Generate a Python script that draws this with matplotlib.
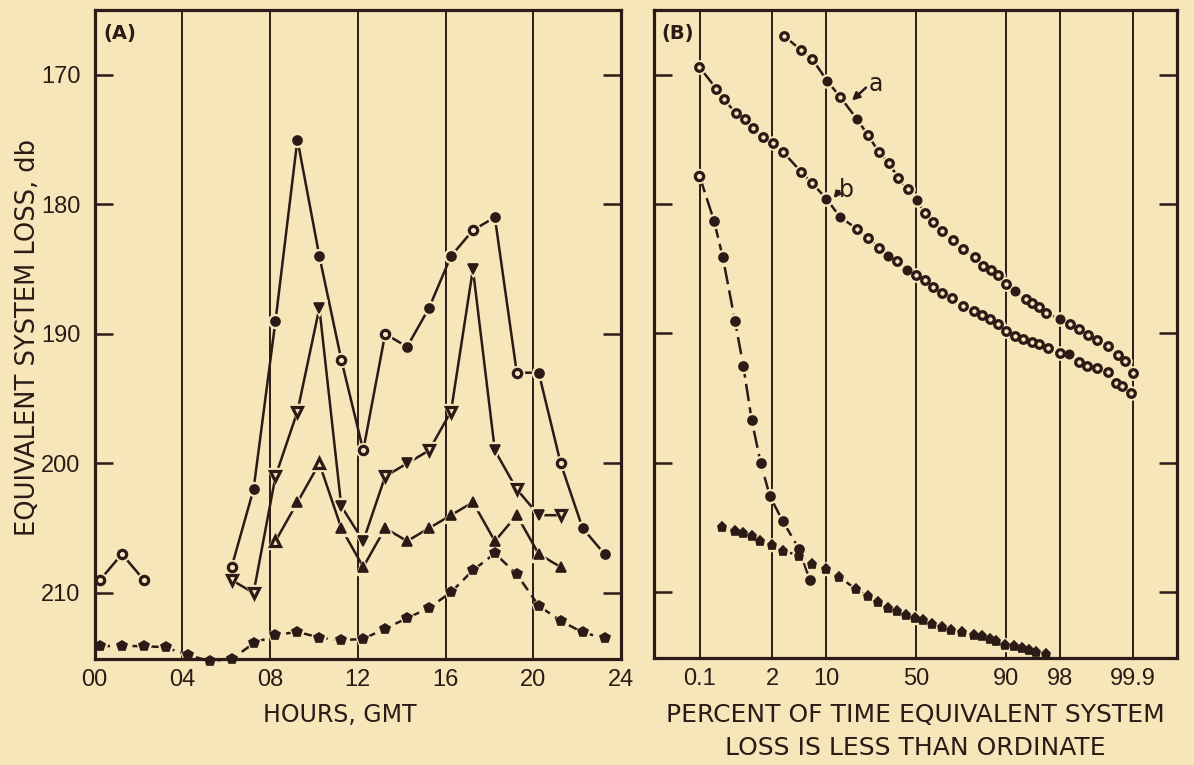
import numpy as np
import matplotlib
matplotlib.use("Agg")
import matplotlib.pyplot as plt
from statistics import NormalDist

# ---------------- Panel A: hourly values vs. time of day ----------------
hours = [h + 0.25 for h in range(24)]
hour_ticks = [0, 4, 8, 12, 16, 20, 24]
hour_labels = ["00", "04", "08", "12", "16", "20", "24"]

nan = np.nan
loss_circle = [209, 207, 209, nan, nan, nan, 208, 202, 189, 175, 184, 192,
               199, 190, 191, 188, 184, 182, 181, 193, 193, 200, 205, 207]
loss_tri_down = [nan] * 6 + [209, 210, 201, 196, 188, 203.3, 206, 201, 200,
                             199, 196, 185, 199, 202, 204, 204] + [nan] * 2
loss_tri_up = [nan] * 8 + [206, 203, 200, 205, 208, 205, 206, 205, 204, 203,
                           206, 204, 207, 208] + [nan] * 2
loss_pent = [214.1, 214.1, 214.1, 214.2, 214.8, 215.25, 215.1, 213.9, 213.25,
             213.0, 213.45, 213.65, 213.55, 212.75, 211.95, 211.15, 209.95,
             208.25, 206.95, 208.55, 211.0, 212.15, 213.05, 213.5]

# ---------------- Panel B: cumulative distributions ----------------
pct_a = [2.96, 5.0, 6.9, 10.2, 13.8, 19.7, 24.6, 29.7, 34.9, 39.8, 45.0, 50.1,
         54.8, 59.4, 64.5, 69.7, 74.8, 79.8, 82.9, 85.5, 87.8, 89.9, 92.0, 94.1,
         95.1, 96.0, 96.8, 97.95, 98.56, 98.98, 99.28, 99.49, 99.685, 99.8,
         99.85, 99.9]
loss_a = [167.0, 168.1, 168.8, 170.5, 171.7, 173.4, 174.7, 176.0, 176.85, 178.0,
          178.86, 179.7, 180.7, 181.36, 182.05, 182.8, 183.5, 184.1, 184.8, 185.1,
          185.5, 186.2, 186.7, 187.35, 187.65, 187.96, 188.4, 188.9, 189.3, 189.7,
          190.1, 190.5, 191.0, 191.7, 192.1, 193.06]

pct_b = [0.099, 0.215, 0.305, 0.507, 0.728, 1.0, 1.42, 2.03, 2.89, 5.0, 6.89,
         10.0, 13.8, 19.7, 24.6, 29.8, 34.4, 39.2, 44.4, 49.7, 54.6, 59.5, 64.5,
         69.2, 74.5, 79.4, 82.4, 85.2, 87.8, 89.9, 92.0, 93.6, 94.96, 96.0, 96.97,
         97.95, 98.5, 98.97, 99.26, 99.49, 99.685, 99.78, 99.83, 99.89]
loss_b = [169.4, 171.07, 171.9, 173.0, 173.4, 174.1, 174.8, 175.3, 176.0, 177.5,
          178.4, 179.6, 181.0, 181.9, 182.6, 183.4, 184.0, 184.4, 185.1, 185.5,
          185.9, 186.4, 186.9, 187.3, 187.9, 188.3, 188.6, 188.9, 189.25, 189.8,
          190.2, 190.4, 190.7, 190.8, 191.1, 191.5, 191.6, 192.2, 192.5, 192.7,
          193.0, 193.8, 194.1, 194.6]

pct_c = [0.099, 0.196, 0.289, 0.487, 0.68, 0.944, 1.32, 1.84, 2.83, 4.75, 6.46]
loss_c = [177.8, 181.3, 184.1, 189.07, 192.5, 196.7, 200.0, 202.6, 204.5, 206.7,
          209.1]

pct_d = [0.276, 0.487, 0.664, 0.944, 1.29, 1.96, 2.89, 4.75, 6.77, 9.78, 13.57,
         19.4, 24.4, 29.3, 34.4, 38.9, 44.0, 49.3, 53.9, 58.9, 64.0, 68.8, 74.3,
         79.4, 82.4, 85.2, 87.3, 89.6, 91.8, 93.3, 94.6, 95.6, 96.8]
loss_d = [204.97, 205.28, 205.4, 205.7, 206.05, 206.4, 206.8, 207.2, 207.8,
          208.2, 208.8, 209.8, 210.3, 210.76, 211.2, 211.45, 211.8, 212.0, 212.2,
          212.5, 212.7, 212.9, 213.1, 213.3, 213.4, 213.6, 213.8, 214.07, 214.2,
          214.35, 214.5, 214.6, 214.8]

pct_ticks = [0.1, 2, 10, 50, 90, 98, 99.9]
pct_labels = ["0.1", "2", "10", "50", "90", "98", "99.9"]
loss_ticks = [170, 180, 190, 200, 210]

# open (False) / solid (True) marker pattern of each plotted point
fill_circle = [False, False, False, False, False, False, False, True, True, True,
               True, False, False, False, True, True, True, False, True, False,
               True, False, True, True]
fill_tri_down = [False] * 6 + [False, False, False, False, True, True, True,
                               False, True, False, False, True, True, False,
                               True, False] + [False] * 2
fill_tri_up = [False] * 8 + [False, True, False] + [True] * 11 + [False] * 2

BG = "#f8e6bb"
INK = "#2a1b16"
NUM_FONT = ["Liberation Sans", "DejaVu Sans"]
TXT_FONT = ["DejaVu Sans"]

plt.rcParams["font.family"] = TXT_FONT

fig = plt.figure(figsize=(11.94, 7.65), dpi=100, facecolor=BG)
W, H = 1194.0, 765.0
axA = fig.add_axes([94.5 / W, 1 - 659 / H, (621 - 94.5) / W, (659 - 10) / H])
axB = fig.add_axes([654 / W, 1 - 658 / H, (1176.7 - 654) / W, (658 - 10) / H])


def draw_series(ax, x, y, marker, filled, ms=7.0, lw=1.8, dashes=None):
    x = np.asarray(x, float)
    y = np.asarray(y, float)
    line, = ax.plot(x, y, color=INK, lw=lw, zorder=2, clip_on=False,
                    solid_capstyle="butt", dash_capstyle="butt")
    if dashes is not None:
        line.set_dashes(dashes)
    # background ring so the joining line stops short of every marker
    ax.plot(x, y, ls="none", marker=marker, ms=ms + 3.5, mfc=BG, mec=BG,
            zorder=3, clip_on=False)
    f = np.asarray(filled, bool)
    ax.plot(x[f], y[f], ls="none", marker=marker, ms=ms, mfc=INK, mec=INK,
            mew=1.2, zorder=4, clip_on=False)
    ax.plot(x[~f], y[~f], ls="none", marker=marker, ms=ms - 0.5, mfc=BG,
            mec=INK, mew=2.3, zorder=4, clip_on=False)


def style_axes(ax, label_left):
    ax.set_facecolor(BG)
    ax.set_ylim(215.1, 165.0)
    ax.set_yticks(loss_ticks)
    ax.tick_params(axis="y", which="both", direction="in", length=13,
                   width=1.8, color=INK, left=True, right=True,
                   labelleft=label_left, labelright=False, pad=10,
                   labelsize=17, labelcolor=INK)
    ax.tick_params(axis="x", length=0, pad=7, labelsize=17, labelcolor=INK)
    for lab in ax.get_yticklabels() + ax.get_xticklabels():
        lab.set_fontfamily(NUM_FONT)
    for s in ax.spines.values():
        s.set_color(INK)
        s.set_linewidth(2.3)
        s.set_zorder(3.5)


# ---- Panel A ----
axA.set_xlim(0, 24)
axA.set_xticks(hour_ticks)
axA.set_xticklabels(hour_labels)
for h in hour_ticks[1:-1]:
    axA.axvline(h, color=INK, lw=1.4, zorder=1)
style_axes(axA, True)

draw_series(axA, hours, loss_circle, "o", fill_circle, ms=6.5)
draw_series(axA, hours, loss_tri_down, "v", fill_tri_down, ms=7.5)
draw_series(axA, hours, loss_tri_up, "^", fill_tri_up, ms=7.5)
draw_series(axA, hours, loss_pent, "p", [True] * len(loss_pent), ms=7,
            dashes=(4, 2.5))

axA.text(0.016, 0.978, "(A)", transform=axA.transAxes, ha="left", va="top",
         fontsize=14, fontweight="bold", color=INK)

# ---- Panel B: normal-probability abscissa ----
_nd = NormalDist()
_ppf = np.vectorize(_nd.inv_cdf, otypes=[float])
_cdf = np.vectorize(_nd.cdf, otypes=[float])


def _fwd(p):
    p = np.clip(np.asarray(p, float) / 100.0, 1e-9, 1 - 1e-9)
    return _ppf(p)


def _inv(z):
    return 100.0 * _cdf(np.asarray(z, float))


axB.set_xscale("function", functions=(_fwd, _inv))
axB.set_xlim(float(_inv(-3.74)), float(_inv(3.71)))
axB.set_xticks(pct_ticks)
axB.set_xticklabels(pct_labels)
axB.xaxis.set_minor_locator(matplotlib.ticker.NullLocator())
for p in pct_ticks:
    axB.axvline(p, color=INK, lw=1.4, zorder=1)
style_axes(axB, False)

draw_series(axB, pct_a, loss_a, "o", [i in (3, 5, 11, 22, 27) for i in range(len(pct_a))], ms=6)
draw_series(axB, pct_b, loss_b, "o", [i in (11, 12, 16, 18, 36) for i in range(len(pct_b))], ms=6)
draw_series(axB, pct_c, loss_c, "o", [i > 0 for i in range(len(pct_c))], ms=6.5,
            dashes=(7, 2.5))
draw_series(axB, pct_d, loss_d, "p", [True] * len(pct_d), ms=6.5,
            dashes=(3, 2.5))

axB.text(0.014, 0.978, "(B)", transform=axB.transAxes, ha="left", va="top",
         fontsize=14, fontweight="bold", color=INK)

# curve labels with short pointer arrows
axB.annotate("", xy=(17.9, 172.0), xytext=(23.6, 171.0),
             arrowprops=dict(arrowstyle="-|>", color=INK, lw=1.8,
                             shrinkA=0, shrinkB=0, mutation_scale=11))
axB.text(28.0, 170.7, "a", ha="center", va="center", fontsize=17, color=INK)
axB.annotate("", xy=(11.9, 179.55), xytext=(13.6, 179.0),
             arrowprops=dict(arrowstyle="-|>", color=INK, lw=1.8,
                             shrinkA=0, shrinkB=0, mutation_scale=9))
axB.text(15.9, 178.9, "b", ha="center", va="center", fontsize=17, color=INK)

# ---- axis titles ----
fig.text(28 / W, 1 - 338 / H, "EQUIVALENT SYSTEM LOSS, db", rotation=90,
         ha="center", va="center", fontsize=18.5, color=INK)
fig.text(340 / W, 1 - 715 / H, "HOURS, GMT", ha="center", va="center",
         fontsize=17, color=INK)
fig.text(915 / W, 1 - 715 / H, "PERCENT OF TIME EQUIVALENT SYSTEM",
         ha="center", va="center", fontsize=18, color=INK)
fig.text(915 / W, 1 - 748 / H, "LOSS IS LESS THAN ORDINATE",
         ha="center", va="center", fontsize=18, color=INK)

fig.savefig("out.png", dpi=100, facecolor=BG)
